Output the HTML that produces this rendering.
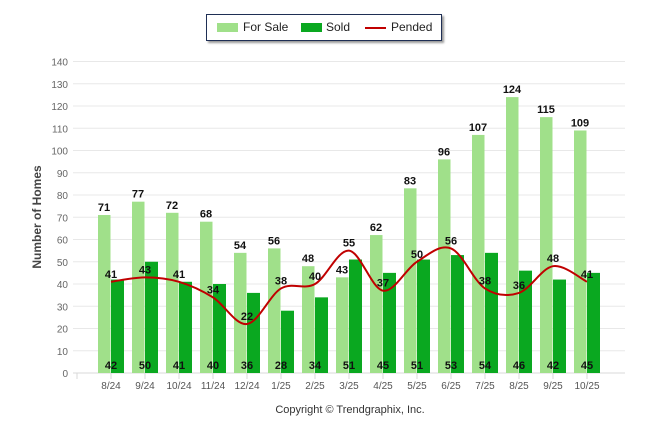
<!DOCTYPE html>
<html><head><meta charset="utf-8"><style>
body{margin:0;background:#fff;font-family:"Liberation Sans",sans-serif;}
#wrap{position:relative;width:646px;height:434px;overflow:hidden;}
.legend{position:absolute;left:206px;top:14px;width:234px;height:25px;border:1px solid #1f2f55;box-shadow:2px 2px 2px #999;background:#fff;font-size:12px;color:#222;}
.li{position:absolute;top:6px;line-height:13px;}
.sw{position:absolute;top:8px;width:21px;height:9px;}
</style></head><body>
<div id="wrap">
<div class="legend">
 <div class="sw" style="left:10px;background:#a0e08a"></div>
 <div class="li" style="left:36px">For Sale</div>
 <div class="sw" style="left:94px;background:#0aa820"></div>
 <div class="li" style="left:119px">Sold</div>
 <div class="sw" style="left:158px;top:12px;height:2px;background:#c00000"></div>
 <div class="li" style="left:184px">Pended</div>
</div>
<svg id="svg" width="646" height="434" style="position:absolute;left:0;top:0"></svg>
</div>
<script>
const categories=["8/24","9/24","10/24","11/24","12/24","1/25","2/25","3/25","4/25","5/25","6/25","7/25","8/25","9/25","10/25"];
const forSale=[71,77,72,68,54,56,48,43,62,83,96,107,124,115,109];
const sold=[42,50,41,40,36,28,34,51,45,51,53,54,46,42,45];
const pended=[41,43,41,34,22,38,40,55,37,50,56,38,36,48,41];
const yTicks=[0,10,20,30,40,50,60,70,80,90,100,110,120,130,140];
const NS="http://www.w3.org/2000/svg";
const svg=document.getElementById('svg');
const y=v=>373-v*2.225;
const x=i=>77+34*(i+1);
function mk(t,a,p){const e=document.createElementNS(NS,t);for(const k in a)e.setAttribute(k,a[k]);(p||svg).appendChild(e);return e;}
yTicks.forEach(v=>{
 const g=mk('line',{x1:73,x2:625,y1:y(v),y2:y(v),stroke:v?'#e8e8e8':'#d8d8d8','stroke-width':1});
 
 
 const t=mk('text',{x:68,y:y(v)+4,'text-anchor':'end','font-size':10,fill:'#666'});
 t.textContent=v;
 
 
});
for(let i=0;i<=15;i++){const tk=mk('line',{x1:77+34*i,x2:77+34*i,y1:373,y2:379,stroke:'#d8d8d8'});
 
 }
categories.forEach((c,i)=>{
 const cx=x(i);
 const b1=mk('rect',{x:cx-13,y:y(forSale[i]),width:12.5,height:373-y(forSale[i]),fill:'#a0e08a'});
 
 
 const b2=mk('rect',{x:cx,y:y(sold[i]),width:13,height:373-y(sold[i]),fill:'#0aa820'});
 
 
 const t=mk('text',{x:cx,y:389,'text-anchor':'middle','font-size':10,fill:'#555'});
 t.textContent=c;
 
 
});
// smooth pended line
let d='';const pts=pended.map((v,i)=>[x(i),y(v)]);
pts.forEach((p,i)=>{if(!i){d='M'+p[0]+','+p[1];return;}
 const p0=pts[i-2]||pts[i-1],p1=pts[i-1],p3=pts[i+1]||p;
 const c1=[p1[0]+(p[0]-p0[0])/6,p1[1]+(p[1]-p0[1])/6],c2=[p[0]-(p3[0]-p1[0])/6,p[1]-(p3[1]-p1[1])/6];
 d+=' C'+c1+' '+c2+' '+p;});
const ln=mk('path',{d:d,fill:'none',stroke:'#c00000','stroke-width':2});


categories.forEach((c,i)=>{
 const cx=x(i);
 const a=mk('text',{x:cx-7,y:y(forSale[i])-4,'text-anchor':'middle','font-size':11,'font-weight':'bold',fill:'#111'});
 a.textContent=forSale[i];
 
 
 const b=mk('text',{x:cx,y:369,'text-anchor':'middle','font-size':11,'font-weight':'bold',fill:'#111'});
 b.textContent=sold[i];
 
 
 const p=mk('text',{x:cx,y:y(pended[i])-4,'text-anchor':'middle','font-size':11,'font-weight':'bold',fill:'#111'});
 p.textContent=pended[i];
 
 
});
const yt=mk('text',{x:0,y:0,transform:'translate(41,217) rotate(-90)','text-anchor':'middle','font-size':12,'font-weight':'bold',fill:'#444'});
yt.textContent='Number of Homes';


const cp=mk('text',{x:350,y:413,'text-anchor':'middle','font-size':11,fill:'#333'});
cp.textContent='Copyright \u00A9 Trendgraphix, Inc.';


</script>
</body></html>
